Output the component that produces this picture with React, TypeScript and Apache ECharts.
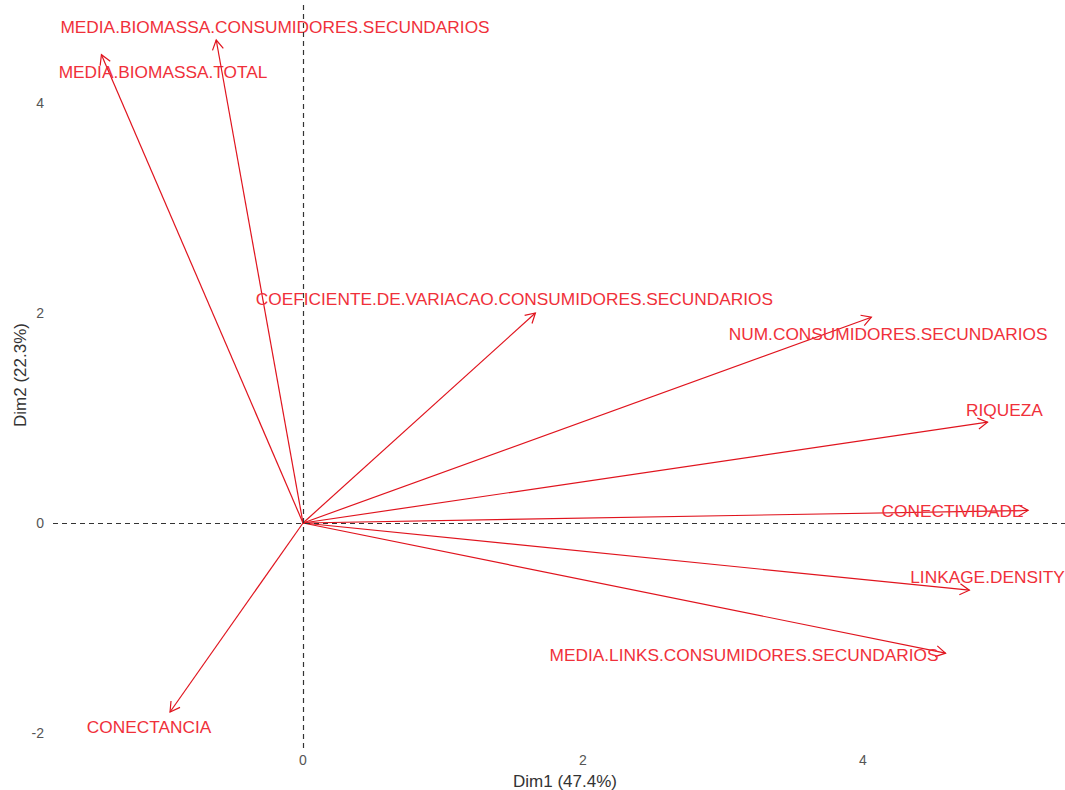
import React, { useEffect, useRef } from "react";
import * as echarts from "echarts";

// Variable loadings on the first two principal dimensions
const variables = [
  "MEDIA.BIOMASSA.TOTAL",
  "MEDIA.BIOMASSA.CONSUMIDORES.SECUNDARIOS",
  "COEFICIENTE.DE.VARIACAO.CONSUMIDORES.SECUNDARIOS",
  "NUM.CONSUMIDORES.SECUNDARIOS",
  "RIQUEZA",
  "CONECTIVIDADE",
  "LINKAGE.DENSITY",
  "MEDIA.LINKS.CONSUMIDORES.SECUNDARIOS",
  "CONECTANCIA",
];
const dim1 = [-1.44, -0.62, 1.66, 4.06, 4.89, 5.18, 4.76, 4.59, -0.95];
const dim2 = [4.46, 4.6, 2.0, 1.96, 0.96, 0.12, -0.64, -1.24, -1.8];
// Where each variable's name sits (data units)
const labelDim1 = [-1.0, -0.2, 1.51, 4.18, 5.01, 4.64, 4.89, 3.15, -1.1];
const labelDim2 = [4.3, 4.72, 2.13, 1.8, 1.08, 0.11, -0.51, -1.26, -1.94];

const xTicks = [0, 2, 4];
const yTicks = [-2, 0, 2, 4];
const xTitle = "Dim1 (47.4%)";
const yTitle = "Dim2 (22.3%)";

const FONT = "'Liberation Sans', Arial, sans-serif";
const ARROW = "#e0141e";
const LABEL = "#f0303a";

export default function App() {
  const ref = useRef<HTMLDivElement>(null);

  useEffect(() => {
    if (!ref.current) return;
    const chart = echarts.init(ref.current, undefined, {
      renderer: "svg",
      width: 1065,
      height: 790,
    });

    const data = variables.map((name, i) => ({
      name,
      value: [dim1[i], dim2[i], labelDim1[i], labelDim2[i]],
    }));

    chart.setOption({
      animation: false,
      backgroundColor: "#ffffff",
      // plotting region runs slightly past the right edge of the canvas
      grid: { left: 53, top: 2, width: 1024, height: 746, outerBoundsMode: "none" },
      xAxis: {
        type: "value",
        min: -1.786,
        max: 5.529,
        axisLine: { show: false },
        axisTick: { show: false },
        splitLine: { show: false },
        axisLabel: {
          customValues: xTicks,
          color: "#555555",
          fontSize: 14,
          fontFamily: FONT,
          margin: 5,
        },
        name: xTitle,
        nameLocation: "middle",
        nameGap: 25,
        nameMoveOverlap: false,
        nameTextStyle: { color: "#333333", fontSize: 17, fontFamily: FONT },
      },
      yAxis: {
        type: "value",
        min: -2.143,
        max: 4.962,
        axisLine: { show: false },
        axisTick: { show: false },
        splitLine: { show: false },
        axisLabel: {
          customValues: yTicks,
          color: "#555555",
          fontSize: 14,
          fontFamily: FONT,
          margin: 9,
        },
        name: yTitle,
        nameLocation: "middle",
        nameGap: 24,
        nameRotate: 90,
        nameMoveOverlap: false,
        nameTextStyle: { color: "#333333", fontSize: 17, fontFamily: FONT },
      },
      series: [
        {
          type: "line",
          data: [],
          silent: true,
          markLine: {
            silent: true,
            symbol: "none",
            label: { show: false },
            lineStyle: { color: "#333333", type: [5, 4], width: 1.2 },
            data: [{ xAxis: 0 }, { yAxis: 0 }],
          },
        },
        {
          type: "custom",
          clip: false,
          silent: true,
          data,
          renderItem: (params: any, api: any) => {
            const o = api.coord([0, 0]);
            const t = api.coord([api.value(0), api.value(1)]);
            const l = api.coord([api.value(2), api.value(3)]);
            const ang = Math.atan2(t[1] - o[1], t[0] - o[0]);
            const len = 11;
            const a = Math.PI / 6;
            const p1 = [t[0] - len * Math.cos(ang - a), t[1] - len * Math.sin(ang - a)];
            const p2 = [t[0] - len * Math.cos(ang + a), t[1] - len * Math.sin(ang + a)];
            return {
              type: "group",
              children: [
                {
                  type: "line",
                  shape: { x1: o[0], y1: o[1], x2: t[0], y2: t[1] },
                  style: { stroke: ARROW, lineWidth: 1.2 },
                },
                {
                  type: "polyline",
                  shape: { points: [p1, t, p2] },
                  style: { stroke: ARROW, fill: null, lineWidth: 1.2 },
                },
                {
                  type: "text",
                  x: l[0],
                  y: l[1],
                  style: {
                    text: variables[params.dataIndex],
                    fill: LABEL,
                    fontSize: 17.3,
                    fontFamily: FONT,
                    align: "center",
                    verticalAlign: "middle",
                  },
                },
              ],
            };
          },
        },
      ],
    });

    return () => chart.dispose();
  }, []);

  return (
    <div
      ref={ref}
      style={{
        position: "fixed",
        left: 0,
        top: 0,
        width: 1065,
        height: 790,
        overflow: "hidden",
        background: "#fff",
      }}
    />
  );
}
